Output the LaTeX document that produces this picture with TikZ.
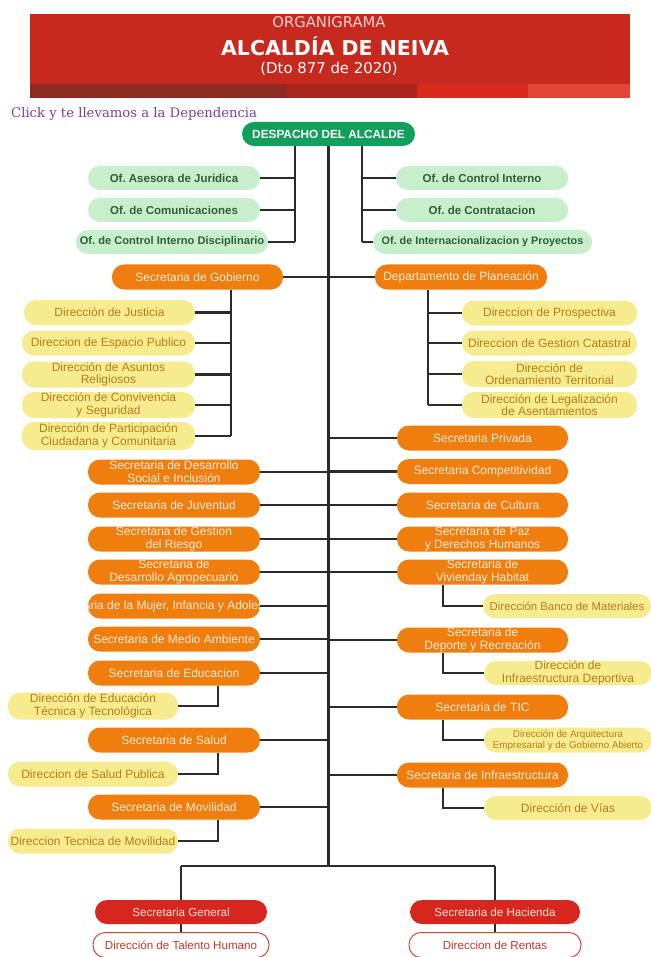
\documentclass[tikz,border=0pt]{standalone}
\usepackage{fontspec}
\setmainfont{Liberation Sans}
\newfontfamily\hdrfont{DejaVu Sans}
\newfontfamily\clickfont{DejaVu Serif}
\definecolor{bannerred}{HTML}{C8291F}
\definecolor{stripa}{HTML}{8E2A24}
\definecolor{stripb}{HTML}{A82520}
\definecolor{stripc}{HTML}{D92A1E}
\definecolor{stripd}{HTML}{E04538}
\definecolor{orgtitle}{HTML}{F5D3CB}
\definecolor{clickc}{HTML}{7B3FA6}
\definecolor{despfill}{HTML}{11A05B}
\definecolor{grnfill}{HTML}{C8EFCB}
\definecolor{grntxt}{HTML}{2F5E3A}
\definecolor{orgfill}{HTML}{F07E0E}
\definecolor{orgtxt}{HTML}{FDEBD8}
\definecolor{yelfill}{HTML}{F7EB8F}
\definecolor{yeltxt}{HTML}{B57F18}
\definecolor{redfill}{HTML}{D7261D}
\definecolor{redtxt}{HTML}{FCE3DF}
\definecolor{outdraw}{HTML}{D9473C}
\definecolor{outtxt}{HTML}{C0392B}
\definecolor{linec}{HTML}{2B2B2B}
\begin{document}
\frenchspacing
\begin{tikzpicture}[x=1pt,y=-1pt,
  box/.style={rounded corners=12pt, inner sep=0pt, minimum height=25pt, align=center},
  desp/.style={box, fill=despfill, text=white, minimum height=24pt, font=\bfseries\fontsize{11.8}{12}\selectfont},
  grn/.style={box, fill=grnfill, text=grntxt, minimum height=24pt, font=\bfseries\fontsize{11.5}{12}\selectfont},
  org/.style={box, fill=orgfill, text=orgtxt, font=\fontsize{12}{12.8}\selectfont},
  yel/.style={box, fill=yelfill, text=yeltxt, font=\fontsize{12}{12.6}\selectfont},
  redbox/.style={box, fill=redfill, text=redtxt, minimum height=24pt, font=\fontsize{11.6}{12}\selectfont},
  outbox/.style={box, fill=white, draw=outdraw, line width=1pt, text=outtxt, font=\fontsize{11.6}{12}\selectfont},
  conn/.style={draw=linec, line width=2.3pt}
]
\useasboundingbox (0,0) rectangle (650,957);
\fill[white] (0,0) rectangle (650,957);
% header banner
\fill[bannerred] (30,14) rectangle (630,98);
\fill[stripa] (30,84) rectangle (287,98);
\fill[stripb] (287,84) rectangle (417,98);
\fill[stripc] (417,84) rectangle (528,98);
\fill[stripd] (528,84) rectangle (630,98);
\node[anchor=base, font=\hdrfont\fontsize{14.8}{15}\selectfont, text=orgtitle, inner sep=0] (t1) at (329,28) {ORGANIGRAMA};
\node[anchor=base, font=\hdrfont\bfseries\fontsize{20.5}{21}\selectfont, text=white, inner sep=0] (t2) at (335,55.5) {ALCALDÍA DE NEIVA};
\node[anchor=base, font=\hdrfont\fontsize{14.9}{15}\selectfont, text=white, inner sep=0] (t3) at (329,74) {(Dto 877 de 2020)};
\node[anchor=base west, font=\clickfont\fontsize{13.2}{14}\selectfont, text=clickc, inner sep=0] (click) at (11,118) {Click y te llevamos a la Dependencia};

% top
\node[desp, minimum width=173pt] (desp) at (328.5,134) {DESPACHO DEL ALCALDE};
\node[grn, minimum width=172pt] (jur) at (174,178) {Of. Asesora de Juridica};
\node[grn, minimum width=172pt] (com) at (174,210) {Of. de Comunicaciones};
\node[grn, minimum width=192pt, font=\bfseries\fontsize{11.1}{12}\selectfont] (cid) at (172,242) {Of. de Control Interno Disciplinario};
\node[grn, minimum width=172pt] (ci) at (482,178) {Of. de Control Interno};
\node[grn, minimum width=172pt] (con) at (482,210) {Of. de Contratacion};
\node[grn, minimum width=219pt, font=\bfseries\fontsize{10.8}{12}\selectfont] (inter) at (482.5,242) {Of. de Internacionalizacion y Proyectos};
\node[org, minimum width=171pt] (gob) at (197.5,277) {Secretaria de Gobierno};
\node[org, minimum width=172pt] (plan) at (461,277) {Departamento de Planeación};

% gobierno subs
\node[yel, minimum width=171pt] (jus) at (109.5,312.5) {Dirección de Justicia};
\node[yel, minimum width=173pt] (esp) at (108.5,343) {Direccion de Espacio Publico};
\node[yel, minimum width=173pt, minimum height=26pt] (rel) at (108.5,374.5) {Dirección de Asuntos\\Religiosos};
\node[yel, minimum width=173pt, minimum height=26pt] (segu) at (108.5,405) {Dirección de Convivencia\\y Seguridad};
\node[yel, minimum width=173pt, minimum height=28pt] (part) at (108.5,436) {Dirección de Participación\\Ciudadana y Comunitaria};

% planeacion subs
\node[yel, minimum width=175pt] (pros) at (549.5,313) {Direccion de Prospectiva};
\node[yel, minimum width=175pt] (cat) at (549.5,343) {Direccion de Gestion Catastral};
\node[yel, minimum width=175pt, minimum height=26pt] (ord) at (549.5,374) {Dirección de\\Ordenamiento Territorial};
\node[yel, minimum width=175pt, minimum height=26pt] (leg) at (549.5,405) {Dirección de Legalización\\de Asentamientos};

% right secretarias
\node[org, minimum width=171pt] (priv) at (482.5,438) {Secretaria Privada};
\node[org, minimum width=171pt] (comp) at (482.5,471.5) {Secretaria Competitividad};
\node[org, minimum width=171pt] (cult) at (482.5,505) {Secretaria de Cultura};
\node[org, minimum width=171pt] (paz) at (482.5,539) {Secretaria de Paz\\y Derechos Humanos};
\node[org, minimum width=171pt] (viv) at (482.5,572) {Secretaria de\\Vivienday Habitat};
\node[org, minimum width=171pt] (dep) at (482.5,640) {Secretaria de\\Deporte y Recreación};
\node[org, minimum width=171pt] (tic) at (482.5,707) {Secretaria de TIC};
\node[org, minimum width=171pt] (infra) at (482.5,775) {Secretaria de Infraestructura};

% right subs
\node[yel, minimum width=168pt, minimum height=24pt, font=\fontsize{11.4}{12}\selectfont] (banco) at (567,606) {Dirección Banco de Materiales};
\node[yel, minimum width=168pt, minimum height=24pt] (idep) at (568,673) {Dirección de\\Infraestructura Deportiva};
\node[yel, minimum width=168pt, minimum height=25pt, font=\fontsize{9.8}{11}\selectfont] (arq) at (568,740) {Dirección de Arquitectura\\Empresarial y de Gobierno Abierto};
\node[yel, minimum width=168pt, minimum height=24pt] (vias) at (568,808) {Dirección de Vías};

% left secretarias
\node[org, minimum width=172pt] (dsoc) at (174,472) {Secretaria de Desarrollo\\Social e Inclusión};
\node[org, minimum width=172pt] (juv) at (174,505) {Secretaria de Juventud};
\node[org, minimum width=172pt] (ries) at (174,539) {Secretaria de Gestion\\del Riesgo};
\node[org, minimum width=172pt] (agro) at (174,572) {Secretaria de\\Desarrollo Agropecuario};
\node[org, minimum width=172pt] (mujer) at (174,606) {};
\begin{scope}
  \clip[rounded corners=12pt] (88,593.5) rectangle (260,618.5);
  \node[anchor=west, inner sep=0, text=orgtxt, font=\fontsize{12}{12.8}\selectfont] (mujertxt) at (49,606) {Secretaria de la Mujer, Infancia y Adolescencia};
\end{scope}
\node[org, minimum width=172pt] (medio) at (174,639) {Secretaria de Medio Ambiente};
\node[org, minimum width=172pt] (edu) at (174,673) {Secretaria de Educacion};
\node[org, minimum width=172pt] (sal) at (174,740) {Secretaria de Salud};
\node[org, minimum width=172pt] (mov) at (174,807) {Secretaria de Movilidad};

% left subs
\node[yel, minimum width=170pt, minimum height=27pt] (etec) at (93,706) {Dirección de Educación\\Técnica y Tecnológica};
\node[yel, minimum width=170pt] (salp) at (93,774) {Direccion de Salud Publica};
\node[yel, minimum width=170pt] (movt) at (93,841) {Direccion Tecnica de Movilidad};

% bottom
\node[redbox, minimum width=172pt] (gen) at (181,912) {Secretaria General};
\node[redbox, minimum width=170pt] (hac) at (495,912) {Secretaria de Hacienda};
\node[outbox, minimum width=176pt] (tal) at (181,945) {Dirección de Talento Humano};
\node[outbox, minimum width=172pt] (rent) at (495,945) {Direccion de Rentas};

% ---------- connectors ----------
\coordinate (tb) at (328.5,866);
\coordinate (lov) at (295,146);
\coordinate (rov) at (362,146);
\coordinate (gv) at (231,436);
\coordinate (pv) at (428,405);
\coordinate (rsv) at (443,0);
\coordinate (lsv) at (218,0);

\draw[conn] (desp) -- (tb);
\draw[conn] (lov) -- (lov |- cid);
\draw[conn] (rov) -- (rov |- inter);
\foreach \n in {jur,com,cid} \draw[conn] (\n.east) -- (\n.east -| lov);
\foreach \n in {ci,con,inter} \draw[conn] (\n.west) -- (\n.west -| rov);

\draw[conn] (gob.east) -- (gob.east -| tb);
\draw[conn] (plan.west) -- (plan.west -| tb);
\draw[conn] (gv |- gob.south) -- (gv);
\foreach \n in {jus,esp,rel,segu,part} \draw[conn] (\n.east) -- (\n.east -| gv);
\draw[conn] (pv |- plan.south) -- (pv);
\foreach \n in {pros,cat,ord,leg} \draw[conn] (\n.west) -- (\n.west -| pv);

\foreach \n in {priv,comp,cult,paz,viv,dep,tic,infra} \draw[conn] (\n.west) -- (\n.west -| tb);
\foreach \n in {dsoc,juv,ries,agro,mujer,medio,edu,sal,mov} \draw[conn] (\n.east) -- (\n.east -| tb);

\draw[conn] (viv.south -| rsv) |- (banco.west);
\draw[conn] (dep.south -| rsv) |- (idep.west);
\draw[conn] (tic.south -| rsv) |- (arq.west);
\draw[conn] (infra.south -| rsv) |- (vias.west);

\draw[conn] (edu.south -| lsv) |- (etec.east);
\draw[conn] (sal.south -| lsv) |- (salp.east);
\draw[conn] (mov.south -| lsv) |- (movt.east);

\draw[conn] (gen |- tb) -- (hac |- tb);
\draw[conn] (gen |- tb) -- (gen.north);
\draw[conn] (hac |- tb) -- (hac.north);
\draw[conn] (gen.south) -- (tal.north);
\draw[conn] (hac.south) -- (rent.north);
\end{tikzpicture}
\end{document}
